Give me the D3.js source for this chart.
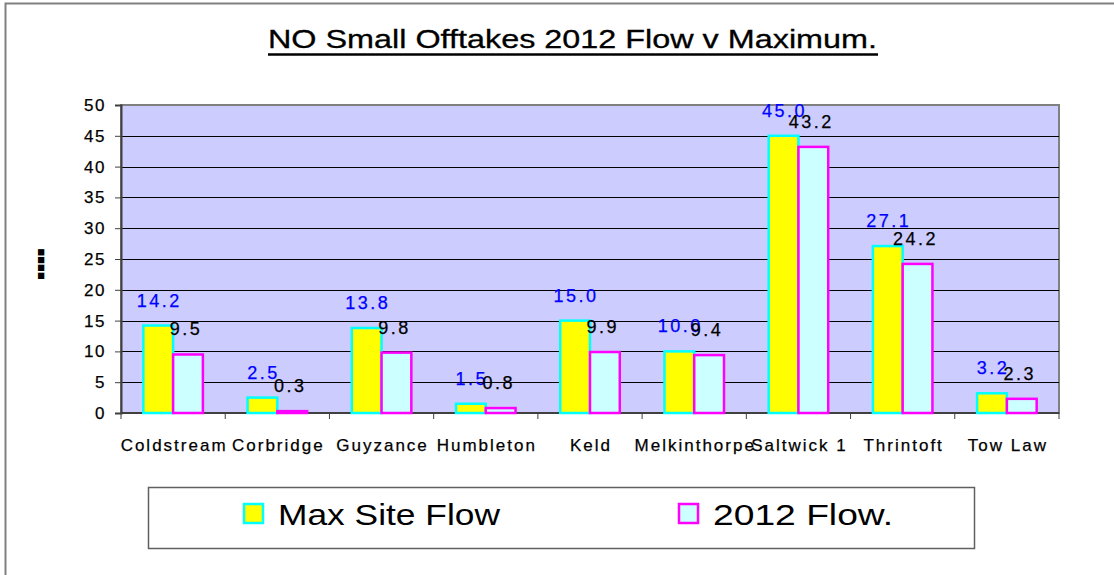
<!DOCTYPE html>
<html>
<head>
<meta charset="utf-8">
<script src="https://cdn.jsdelivr.net/npm/d3@7"></script>
<style>
  body { margin: 0; background: #fff; }
  text { font-family: "Liberation Sans", Arial, sans-serif; }
</style>
</head>
<body>
<script>
var sites = ["Coldstream", "Corbridge", "Guyzance", "Humbleton", "Keld", "Melkinthorpe", "Saltwick 1", "Thrintoft", "Tow Law"];
var maxFlow = [14.2, 2.5, 13.8, 1.5, 15.0, 10.0, 45.0, 27.1, 3.2];
var flow2012 = [9.5, 0.3, 9.8, 0.8, 9.9, 9.4, 43.2, 24.2, 2.3];
var yTicks = [0, 5, 10, 15, 20, 25, 30, 35, 40, 45, 50];
var seriesNames = ["Max Site Flow", "2012 Flow."];

var width = 1114, height = 575;
var plot = {left: 121, right: 1059, top: 105, bottom: 413};

var svg = d3.select("body").append("svg")
    .attr("width", width)
    .attr("height", height);

// outer frame
svg.append("rect")
    .attr("x", 5.5).attr("y", 3.5)
    .attr("width", 1200).attr("height", 700)
    .attr("fill", "none")
    .attr("stroke", "#808080")
    .attr("stroke-width", 2);

// title
svg.append("text")
    .attr("x", 268).attr("y", 48)
    .attr("font-size", 25)
    .attr("textLength", 609)
    .attr("lengthAdjust", "spacingAndGlyphs")
    .attr("stroke", "#000").attr("stroke-width", 0.3)
    .text("NO Small Offtakes 2012 Flow  v  Maximum.");
svg.append("line")
    .attr("x1", 268).attr("x2", 878)
    .attr("y1", 54.5).attr("y2", 54.5)
    .attr("stroke", "#000").attr("stroke-width", 2.5);

var x0 = d3.scaleBand()
    .domain(sites)
    .range([plot.left, plot.right])
    .paddingInner(0)
    .paddingOuter(0);

var x1 = d3.scaleBand()
    .domain([0, 1])
    .range([0, x0.bandwidth()])
    .paddingOuter(0.75)
    .paddingInner(0);

var y = d3.scaleLinear()
    .domain([0, 50])
    .range([plot.bottom, plot.top]);

// plot background
svg.append("rect")
    .attr("x", plot.left).attr("y", plot.top)
    .attr("width", plot.right - plot.left)
    .attr("height", plot.bottom - plot.top)
    .attr("fill", "#ccccff")
    .attr("stroke", "#808080")
    .attr("stroke-width", 2);

// gridlines
svg.append("g")
    .selectAll("line")
    .data(yTicks.filter(function(d) { return d > 0 && d < 50; }))
    .enter().append("line")
    .attr("x1", plot.left).attr("x2", plot.right)
    .attr("y1", function(d) { return Math.round(y(d)) + 0.5; })
    .attr("y2", function(d) { return Math.round(y(d)) + 0.5; })
    .attr("stroke", "#000")
    .attr("stroke-width", 1);

// y axis
var yAxis = svg.append("g")
    .attr("transform", "translate(" + plot.left + ",0)")
    .call(d3.axisLeft(y).tickValues(yTicks).tickSize(6).tickPadding(9));
yAxis.selectAll("text")
    .attr("font-size", 17)
    .attr("letter-spacing", 1.5)
    .attr("font-family", "Liberation Sans, Arial, sans-serif")
    .attr("fill", "#000")
    .attr("stroke", "#000").attr("stroke-width", 0.25);
yAxis.select(".domain").attr("stroke", "#404040").attr("stroke-width", 2);
yAxis.selectAll(".tick line").attr("stroke", "#404040");

// x axis
var xAxis = svg.append("g")
    .attr("transform", "translate(0," + plot.bottom + ")");
xAxis.append("line")
    .attr("x1", plot.left).attr("x2", plot.right)
    .attr("y1", 0).attr("y2", 0)
    .attr("stroke", "#404040").attr("stroke-width", 2);
xAxis.selectAll(".xtick")
    .data(sites.concat(["end"]))
    .enter().append("line")
    .attr("x1", function(d, i) { return plot.left + i * x0.bandwidth(); })
    .attr("x2", function(d, i) { return plot.left + i * x0.bandwidth(); })
    .attr("y1", 0).attr("y2", 6)
    .attr("stroke", "#404040");
xAxis.selectAll(".xlabel")
    .data(sites)
    .enter().append("text")
    .attr("x", function(d) { return x0(d) + x0.bandwidth() / 2 + 1; })
    .attr("y", 38)
    .attr("text-anchor", "middle")
    .attr("font-size", 17)
    .attr("letter-spacing", 2)
    .attr("stroke", "#000").attr("stroke-width", 0.25)
    .text(function(d) { return d; });

// y axis title (unreadable glyphs in the original)
svg.append("text")
    .attr("transform", "translate(45,264) rotate(-90)")
    .attr("text-anchor", "middle")
    .attr("font-size", 13)
    .attr("font-weight", "bold")
    .attr("letter-spacing", 0)
    .text("■■■■");

// bars
var series = [
    {name: seriesNames[0], values: maxFlow, fill: "#ffff00", stroke: "#00ffff", label: "#0000ff"},
    {name: seriesNames[1], values: flow2012, fill: "#ccffff", stroke: "#ff00ff", label: "#000000"}
];

series.forEach(function(s, si) {
    svg.append("g").selectAll("rect")
        .data(sites)
        .enter().append("rect")
        .attr("x", function(d) { return x0(d) + x1(si); })
        .attr("y", function(d, i) { return y(s.values[i]); })
        .attr("width", x1.bandwidth())
        .attr("height", function(d, i) { return plot.bottom - y(s.values[i]); })
        .attr("fill", s.fill)
        .attr("stroke", s.stroke)
        .attr("stroke-width", 2.5);
});

series.forEach(function(s, si) {
    svg.append("g").selectAll("text")
        .data(sites)
        .enter().append("text")
        .attr("x", function(d) { return x0(d) + x1(si) + x1.bandwidth() / 2 + 1 - si * 3; })
        .attr("y", function(d, i) { return y(s.values[i]) - 19; })
        .attr("text-anchor", "middle")
        .attr("font-size", 18)
        .attr("letter-spacing", 2.5)
        .attr("fill", s.label)
        .attr("stroke", s.label).attr("stroke-width", 0.25)
        .text(function(d, i) { return s.values[i].toFixed(1); });
});

// legend
var legend = svg.append("g");
legend.append("rect")
    .attr("x", 148.5).attr("y", 487.5)
    .attr("width", 826).attr("height", 61)
    .attr("fill", "#fff")
    .attr("stroke", "#606060")
    .attr("stroke-width", 1.5);

var legendX = [244, 679];
var legendTextW = [222, 180];
series.forEach(function(s, si) {
    legend.append("rect")
        .attr("x", legendX[si]).attr("y", 504)
        .attr("width", 19).attr("height", 19)
        .attr("fill", s.fill)
        .attr("stroke", s.stroke)
        .attr("stroke-width", 2.5);
    legend.append("text")
        .attr("x", legendX[si] + 34).attr("y", 525)
        .attr("font-size", 29)
        .attr("textLength", legendTextW[si])
        .attr("lengthAdjust", "spacingAndGlyphs")
        .text(s.name);
});
</script>
</body>
</html>
